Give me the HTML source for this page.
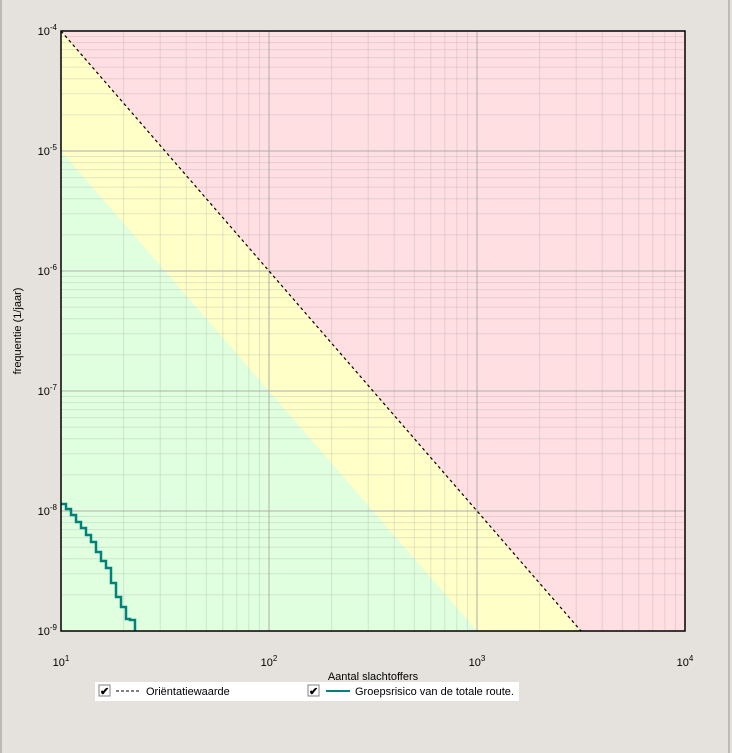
<!DOCTYPE html>
<html><head><meta charset="utf-8"><style>
body{margin:0;width:732px;height:753px;background:#e5e2dd;overflow:hidden;font-family:"Liberation Sans",sans-serif}
</style></head><body>
<svg id="s" width="732" height="753" xmlns="http://www.w3.org/2000/svg" style="position:absolute;left:0;top:0">
<rect x="0" y="0" width="732" height="753" fill="#e5e2dd"/>
<line x1="1" y1="0" x2="1" y2="753" stroke="#bdbab4" stroke-width="2"/>
<line x1="729" y1="0" x2="729" y2="753" stroke="#bdbab4" stroke-width="2"/>
<rect x="61" y="31" width="624" height="600" fill="#ffdfe1"/>
<polygon points="61,31 581,631 61,631" fill="#ffffc8"/>
<polygon points="61,151 477,631 61,631" fill="#dfffdf"/>
<g id="grid"></g>
<line x1="61" y1="31" x2="581" y2="631" stroke="#000" stroke-width="1.2" stroke-dasharray="3,3"/>
<polyline fill="none" stroke="#00817a" stroke-width="2.5" points="61,504 66,504 66,509 71,509 71,515 76,515 76,522 81,522 81,528 86,528 86,535 91,535 91,542 96,542 96,552 101,552 101,561 106,561 106,568 111,568 111,583 116,583 116,597 121,597 121,607 126,607 126,619 130,619 130,620 135,620 135,631"/>
<rect x="61" y="31" width="624" height="600" fill="none" stroke="#000" stroke-width="1.5"/>
<g font-size="11" fill="#000" id="lab"></g>
<text x="373" y="680" font-size="11" text-anchor="middle">Aantal slachtoffers</text>
<text transform="translate(21,331) rotate(-90)" font-size="11" text-anchor="middle">frequentie (1/jaar)</text>
<rect x="95" y="682" width="424" height="19" fill="#fff"/>
<rect x="99" y="685" width="11" height="11" fill="#fff" stroke="#808080"/>
<text x="100" y="695" font-size="11" font-weight="bold">✔</text>
<line x1="116" y1="691" x2="140" y2="691" stroke="#000" stroke-dasharray="3,2"/>
<text x="146" y="695" font-size="11">Oriëntatiewaarde</text>
<rect x="308" y="685" width="11" height="11" fill="#fff" stroke="#808080"/>
<text x="309" y="695" font-size="11" font-weight="bold">✔</text>
<line x1="326" y1="691" x2="350" y2="691" stroke="#00817a" stroke-width="2"/>
<text x="355" y="695" font-size="11">Groepsrisico van de totale route.</text>
</svg>
<script>
var g=document.getElementById('grid'),l=document.getElementById('lab'),ns="http://www.w3.org/2000/svg";
function ln(x1,y1,x2,y2,c){var e=document.createElementNS(ns,'line');e.setAttribute('x1',x1);e.setAttribute('y1',y1);e.setAttribute('x2',x2);e.setAttribute('y2',y2);e.setAttribute('stroke',c);e.setAttribute('stroke-width',1);g.appendChild(e);}
for(var d=0;d<3;d++)for(var k=2;k<10;k++){var x=61+208*(d+Math.log10(k));ln(x,31,x,631,'rgba(170,170,170,0.3)');}
for(var d=0;d<5;d++)for(var k=2;k<10;k++){var y=631-120*(d+Math.log10(k));ln(61,y,685,y,'rgba(170,170,170,0.3)');}
for(var d=1;d<3;d++){var x=61+208*d;ln(x,31,x,631,'#b0aca8');}
for(var d=1;d<5;d++){var y=631-120*d;ln(61,y,685,y,'#b0aca8');}
function t(x,y,s,e,a){var el=document.createElementNS(ns,'text');el.setAttribute('x',x);el.setAttribute('y',y);el.setAttribute('text-anchor',a);el.innerHTML=s+'<tspan font-size="8" dy="-5">'+e+'</tspan>';l.appendChild(el);}
for(var i=0;i<6;i++)t(57,35+120*i,'10','-'+(4+i),'end');
for(var i=0;i<4;i++)t(61+208*i,666,'10',''+(i+1),'middle');
</script>
</body></html>
